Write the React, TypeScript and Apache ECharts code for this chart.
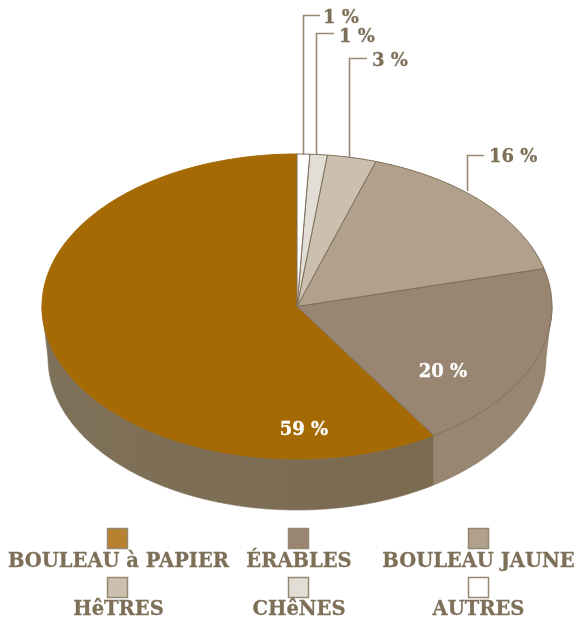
import React, { useEffect, useRef } from "react";
import * as echarts from "echarts";

const categories = ["BOULEAU à PAPIER", "ÉRABLES", "BOULEAU JAUNE", "HêTRES", "CHêNES", "AUTRES"];
const shares = [59, 20, 16, 3.1, 1.1, 0.8];
const sliceLabels = ["59 %", "20 %", "16 %", "3 %", "1 %", "1 %"];
const topColors = ["#A66A05", "#988672", "#B0A08C", "#CBBFB0", "#E2DED6", "#FFFFFF"];
const swatchColors = ["#B88031", "#988672", "#B0A08C", "#CBBFB0", "#E2DED6", "#FFFFFF"];

const INK = "#7E6F58";
const FONT = "'DejaVu Serif'";
const TOP = { cx: 297, cy: 306.5, rx: 255, ry: 152.5 };
const BASE = { cx: 297, cy: 358, rx: 249, ry: 152 };

const pt = (e: typeof TOP, deg: number) => {
  const r = (deg * Math.PI) / 180;
  return [e.cx + e.rx * Math.sin(r), e.cy - e.ry * Math.cos(r)];
};
const arcPts = (e: typeof TOP, a: number, b: number) => {
  const out: number[][] = [];
  const n = Math.max(2, Math.ceil(Math.abs(b - a)));
  for (let i = 0; i <= n; i++) out.push(pt(e, a + ((b - a) * i) / n));
  return out;
};

// The angle on the base ellipse straight below an angle on the top ellipse, so seams stay vertical.
const baseAngle = (deg: number) => {
  if (deg === 90 || deg === 270) return deg;
  const s = Math.sin((deg * Math.PI) / 180) * (TOP.rx / BASE.rx);
  const d = (Math.asin(Math.max(-1, Math.min(1, s))) * 180) / Math.PI;
  return d >= 0 ? 180 - d : 180 - d;
};

// slice boundaries, clockwise from the top; the list is walked backwards
const bounds = (() => {
  const total = shares.reduce((a, b) => a + b, 0);
  let end = 360;
  return shares.map((v) => {
    const start = end - (v / total) * 360;
    const r = [start, end];
    end = start;
    return r;
  });
})();

const wallItem = (_: any, api: any) => {
  const idx = api.value(0);
  const [a, b] = bounds[idx];
  const wallA = Math.max(a, 90);
  const wallB = Math.min(b, 270);
  if (wallB <= wallA) return { type: "group", children: [] };
  return {
    type: "polygon",
    shape: { points: [...arcPts(TOP, wallA, wallB), ...arcPts(BASE, baseAngle(wallB), baseAngle(wallA))] },
    style: {
      fill:
        idx === 0
          ? new echarts.graphic.LinearGradient(1, 0, 0, 0, [
              { offset: 0, color: "#7A6A50" },
              { offset: 1, color: "#7F7059" },
            ])
          : topColors[idx],
      stroke: idx === 0 ? "#7E6F58" : "#8A7B64",
      lineWidth: 0.6,
    },
  };
};

const topItem = (_: any, api: any) => {
  const idx = api.value(0);
  const [a, b] = bounds[idx];
  return {
    type: "polygon",
    shape: { points: [[TOP.cx, TOP.cy], ...arcPts(TOP, a, b)] },
    style: { fill: topColors[idx], stroke: idx === 0 ? topColors[0] : INK, lineWidth: 1 },
  };
};

export default function App() {
  const ref = useRef<HTMLDivElement>(null);
  useEffect(() => {
    document.body.style.margin = "0";
    const chart = echarts.init(ref.current!, undefined, { renderer: "svg" });

    const leaders = [
      { i: 5, pts: [[303.5, 155], [303.5, 15.5], [320, 15.5]], tx: 323, ty: 16 },
      { i: 4, pts: [[316.5, 154], [316.5, 33.5], [334, 33.5]], tx: 339, ty: 35 },
      { i: 3, pts: [[349.5, 157], [349.5, 58.5], [367, 58.5]], tx: 372, ty: 59 },
      { i: 2, pts: [[467.5, 191], [467.5, 155.5], [484, 155.5]], tx: 489, ty: 155 },
    ];
    const inner = [
      { i: 0, x: 304, y: 428 },
      { i: 1, x: 443, y: 370 },
    ];
    const legendX = [118.5, 299, 478.5];
    const swatchX = [107, 288, 468];
    const rowY = [528, 577];
    const textY = [560, 608];

    const graphics: any[] = [];
    leaders.forEach((l) => {
      graphics.push({
        type: "polyline",
        shape: { points: l.pts },
        style: { fill: "none", stroke: "#978871", lineWidth: 1.6 },
        z: 10,
      });
      graphics.push({
        type: "text",
        x: l.tx,
        y: l.ty,
        style: { text: sliceLabels[l.i], fill: INK, stroke: INK, lineWidth: 0.3, font: `bold 18px ${FONT}`, textAlign: "left", textVerticalAlign: "middle" },
        z: 10,
      });
    });
    inner.forEach((l) => {
      graphics.push({
        type: "text",
        x: l.x,
        y: l.y,
        style: { text: sliceLabels[l.i], fill: "#FFFFFF", stroke: "#FFFFFF", lineWidth: 0.3, font: `bold 18px ${FONT}`, textAlign: "center", textVerticalAlign: "middle" },
        z: 10,
      });
    });
    categories.forEach((c, i) => {
      const col = i % 3;
      const row = Math.floor(i / 3);
      graphics.push({
        type: "rect",
        shape: { x: swatchX[col] + 0.5, y: rowY[row] + 0.5, width: 20, height: 20 },
        style: { fill: swatchColors[i], stroke: "#978871", lineWidth: 1.5 },
        z: 10,
      });
      graphics.push({
        type: "text",
        x: legendX[col],
        y: textY[row],
        style: { text: c, fill: INK, stroke: INK, lineWidth: 0.3, font: `bold 19.5px ${FONT}`, textAlign: "center", textVerticalAlign: "middle" },
        z: 10,
      });
    });

    const data = shares.map((v, i) => ({ name: categories[i], value: [i, v] }));
    chart.setOption({
      animation: false,
      series: [
        { type: "custom", coordinateSystem: "none", renderItem: wallItem, data, z: 1, silent: true },
        { type: "custom", coordinateSystem: "none", renderItem: topItem, data, z: 2, silent: true },
      ],
      graphic: { elements: graphics },
    });
    return () => chart.dispose();
  }, []);
  return <div ref={ref} style={{ position: "fixed", left: 0, top: 0, width: 577, height: 618 }} />;
}
